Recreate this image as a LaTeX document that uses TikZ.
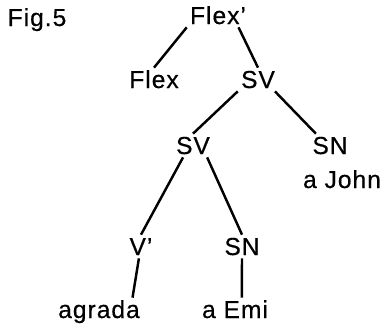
\documentclass[tikz,border=0pt]{standalone}
\usepackage{fontspec}
\setmainfont{Liberation Sans}[LetterSpace=4,BoldFont={Liberation Sans},BoldFeatures={FakeBold=0.5}]
\usetikzlibrary{calc}
\begin{document}
\begin{tikzpicture}[x=0.02cm,y=-0.02cm]
\tikzstyle{every node}=[font=\fontsize{14}{17}\selectfont\bfseries,anchor=base,inner sep=0.06cm,text height=0.34cm,text depth=0pt]
\tikzstyle{branch}=[line width=1.4pt]
\useasboundingbox (0,0) rectangle (388,332);
\node (fig) at (37,26) {Fig.5};
\node (flexbar) at (218,24) {Flex'};
\node (flex) at (154,88) {Flex};
\node (sv1) at (258,88) {SV};
\node (sn1) at (330,154) {SN};
\node (john) at (342,188) {a John};
\node (sv2) at (193,154) {SV};
\node (vbar) at (141,255) {V'};
\node (sn2) at (242,255) {SN};
\node (agrada) at (99,318) {agrada};
\node (aemi) at (235,318) {a Emi};
\draw[branch] (flexbar.south west) -- (flex.north);
\draw[branch] (flexbar.-30) -- (sv1.north);
\draw[branch] (sv1.south west) -- (sv2.north);
\draw[branch] (sv1.-35) -- (sn1.140);
\draw[branch] (sv2.-130) -- (vbar.north);
\draw[branch] (sv2.-40) -- (sn2.north);
\draw[branch] (vbar.-100) -- ($(agrada.north west)!0.88!(agrada.north east)$);
\draw[branch] (sn2.south) -- (aemi.60);
\end{tikzpicture}
\end{document}
